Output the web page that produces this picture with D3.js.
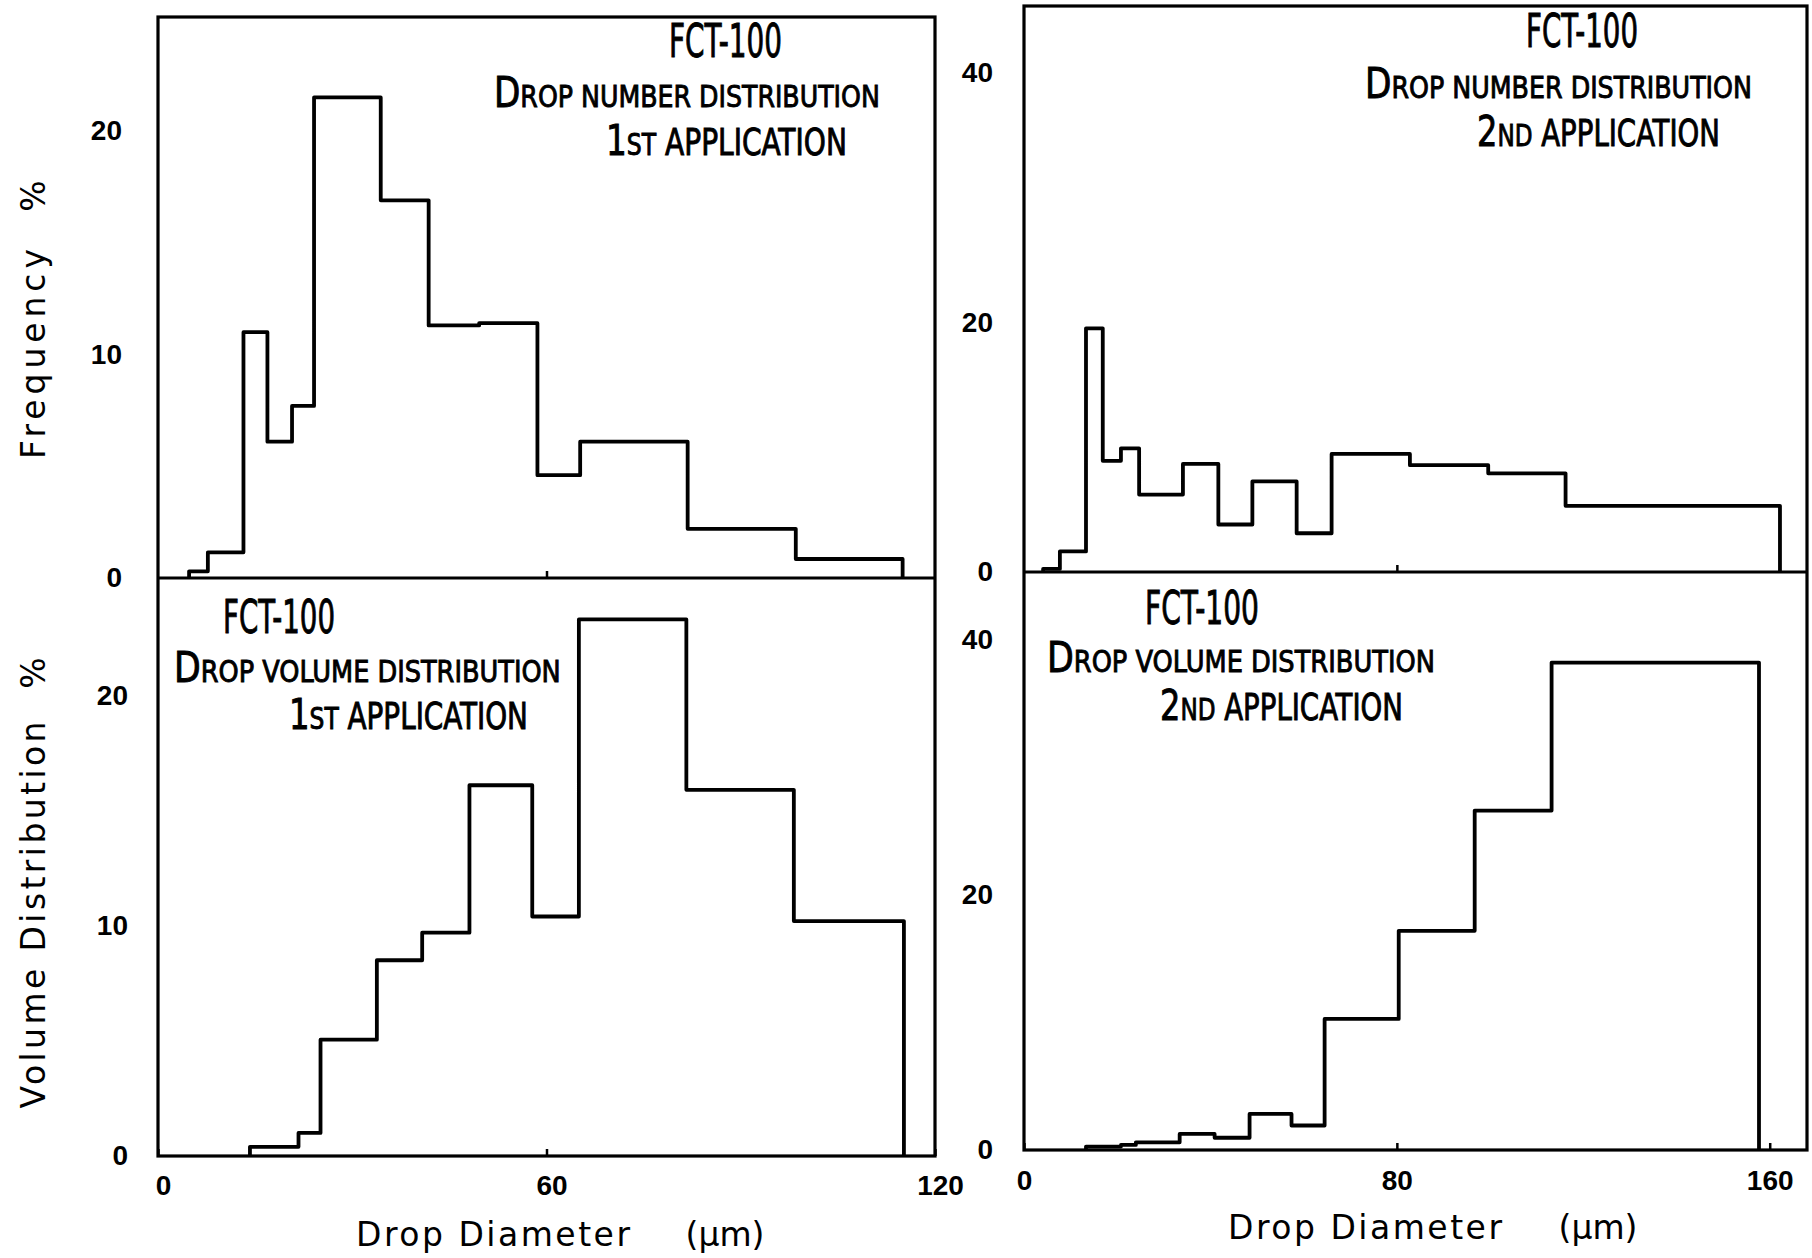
<!DOCTYPE html>
<html>
<head>
<meta charset="utf-8">
<script src="https://cdn.jsdelivr.net/npm/d3@7"></script>
<style>
  html, body { margin: 0; padding: 0; background: #fff; }
  svg { display: block; }
</style>
</head>
<body>
<svg id="chart" width="1812" height="1258"></svg>
<script>
// ---- Data: bin edges (µm) and percentages per bin ----
// 1st application, drop number distribution
const numberEdges1 = [4.8, 7.7, 13.2, 16.9, 20.7, 24.1, 34.4, 41.8, 49.6, 58.6, 65.2, 81.8, 98.5, 115.0];
const numberFreq1  = [0.3, 1.15, 11.0, 6.1, 7.7, 21.5, 16.9, 11.3, 11.4, 4.6, 6.1, 2.2, 0.85];

// 1st application, drop volume distribution
const volumeEdges1 = [14.2, 21.7, 25.1, 33.8, 40.8, 48.1, 57.8, 65.0, 81.6, 98.2, 115.2];
const volumeDist1  = [0.4, 1.0, 5.05, 8.5, 9.7, 16.1, 10.4, 23.3, 15.9, 10.2];

// 2nd application, drop number distribution
const numberEdges2 = [4.1, 7.7, 13.3, 16.9, 20.8, 24.7, 34.1, 41.7, 49.0, 58.5, 66.0, 82.8, 99.6, 116.2, 162.2];
const numberFreq2  = [0.25, 1.65, 19.5, 8.9, 9.9, 6.2, 8.65, 3.8, 7.25, 3.1, 9.45, 8.55, 7.9, 5.3];

// 2nd application, drop volume distribution
const volumeEdges2 = [13.3, 20.8, 24.0, 33.4, 40.9, 48.4, 57.4, 64.5, 80.4, 96.7, 113.2, 157.7];
const volumeDist2  = [0.27, 0.4, 0.6, 1.26, 0.96, 2.83, 1.92, 10.27, 17.18, 26.6, 38.2];

// Tick values
const xTicksLeft  = [0, 60, 120];
const xTicksRight = [0, 80, 160];
const yTicksLeft  = [0, 10, 20];
const yTicksRight = [0, 20, 40];

// ---- Layout ----
const svg = d3.select("#chart");
const ink = "#000";
const letterFont = "'Liberation Sans Narrow', 'DejaVu Sans Condensed', 'Liberation Sans', Arial, sans-serif";
const tickFont = "'Liberation Sans', Arial, sans-serif";
const titleFont = "'DejaVu Sans', 'Liberation Sans', sans-serif";

const leftCol  = { x0: 158,  x1: 935,  top: 17, mid: 578, bottom: 1156 };
const rightCol = { x0: 1024, x1: 1807, top: 6,  mid: 572, bottom: 1150 };

const xLeft  = d3.scaleLinear().domain([0, 120]).range([leftCol.x0, leftCol.x1]);
const xRight = d3.scaleLinear().domain([0, 168]).range([rightCol.x0, rightCol.x1]);
const yLT = d3.scaleLinear().domain([0, 25.1]).range([leftCol.mid, leftCol.top]);
const yLB = d3.scaleLinear().domain([0, 25.1]).range([leftCol.bottom, leftCol.mid]);
const yRT = d3.scaleLinear().domain([0, 45.3]).range([rightCol.mid, rightCol.top]);
const yRB = d3.scaleLinear().domain([0, 45.3]).range([rightCol.bottom, rightCol.mid]);

// ---- Frames (two stacked panels per column) ----
function frame(x, yTop, yBottom) {
  const [x0, x1] = x.range();
  const t = yTop.range()[1], m = yTop.range()[0], b = yBottom.range()[0];
  svg.append("rect")
    .attr("x", x0).attr("y", t).attr("width", x1 - x0).attr("height", b - t)
    .attr("fill", "none").attr("stroke", ink).attr("stroke-width", 3.2);
  svg.append("line")
    .attr("x1", x0).attr("x2", x1).attr("y1", m).attr("y2", m)
    .attr("stroke", ink).attr("stroke-width", 3.2);
}
frame(xLeft, yLT, yLB);
frame(xRight, yRT, yRB);

// ---- Step histograms ----
function stepPoints(edges, vals) {
  const pts = [[edges[0], 0]];
  vals.forEach((v, i) => { pts.push([edges[i], v]); pts.push([edges[i + 1], v]); });
  pts.push([edges[edges.length - 1], 0]);
  return pts;
}
function histogram(x, y, edges, vals) {
  const line = d3.line().x(d => x(d[0])).y(d => y(d[1]));
  svg.append("path")
    .attr("d", line(stepPoints(edges, vals)))
    .attr("fill", "none").attr("stroke", ink)
    .attr("stroke-width", 3.8).attr("stroke-linejoin", "round");
}
histogram(xLeft, yLT, numberEdges1, numberFreq1);
histogram(xLeft, yLB, volumeEdges1, volumeDist1);
histogram(xRight, yRT, numberEdges2, numberFreq2);
histogram(xRight, yRB, volumeEdges2, volumeDist2);

// ---- Axes ----
function yAxis(y, ticks, x0, pad) {
  const g = svg.append("g").attr("transform", `translate(${x0},0)`)
    .call(d3.axisLeft(y).tickValues(ticks).tickSize(0).tickPadding(pad).tickFormat(d3.format("d")));
  g.select(".domain").remove();
  g.selectAll("text")
    .attr("font-family", tickFont).attr("font-weight", "bold")
    .attr("font-size", 28).attr("fill", ink);
}
yAxis(yLT, yTicksLeft, leftCol.x0, 36);
yAxis(yLB, yTicksLeft, leftCol.x0, 30);
yAxis(yRT, yTicksRight, rightCol.x0, 31);
yAxis(yRB, yTicksRight, rightCol.x0, 31);

function xAxis(x, ticks, yBase, labelled, pad, dx) {
  const ax = d3.axisBottom(x).tickValues(ticks).tickSizeInner(-7).tickSizeOuter(0).tickPadding(pad);
  if (!labelled) ax.tickFormat("");
  const g = svg.append("g").attr("transform", `translate(0,${yBase})`).call(ax);
  g.select(".domain").remove();
  g.selectAll("line").attr("stroke", ink).attr("stroke-width", 2.5);
  g.selectAll("text")
    .attr("font-family", tickFont).attr("font-weight", "bold")
    .attr("font-size", 28).attr("fill", ink).attr("dx", dx);
}
// interior ticks on the shared baselines of the upper panels
xAxis(xLeft, [60], leftCol.mid, false, 0, 0);
xAxis(xRight, [80], rightCol.mid, false, 0, 0);
// labelled bottom axes
xAxis(xLeft, xTicksLeft, leftCol.bottom, true, 19, 5);
xAxis(xRight, xTicksRight, rightCol.bottom, true, 20, 0);

// ---- Axis titles ----
function title(str, cx, cy, len, rotate) {
  const t = svg.append("text")
    .attr("transform", `translate(${cx},${cy})` + (rotate ? " rotate(-90)" : ""))
    .attr("text-anchor", "middle")
    .attr("font-family", titleFont).attr("font-size", 33).attr("fill", ink)
    .text(str);
  if (len) t.attr("textLength", len).attr("lengthAdjust", "spacing");
}
title("Frequency", 45, 354, 210, true);
title("%", 45, 196, null, true);
title("Volume Distribution", 45, 915, 387, true);
title("%", 45, 673, null, true);
title("Drop Diameter", 493, 1246, 274, false);
title("(μm)", 725, 1246, null, false);
title("Drop Diameter", 1365, 1239, 274, false);
title("(μm)", 1598, 1239, null, false);

// ---- Lettered captions inside the panels ----
function caption(parts, xa, xb, baseline) {
  const t = svg.append("text").attr("font-family", letterFont).attr("fill", ink)
    .attr("stroke", ink).attr("stroke-width", 0.9);
  parts.forEach(([s, size]) => t.append("tspan").attr("font-size", size).text(s));
  const w = t.node().getBBox().width;
  t.attr("transform", `translate(${xa},${baseline}) scale(${(xb - xa) / w},1)`);
}
// upper left
caption([["FCT-100", 46]], 669, 782, 57);
caption([["D", 42], ["ROP NUMBER DISTRIBUTION", 31]], 494, 880, 107);
caption([["1", 43], ["ST", 31], [" APPLICATION", 37]], 606, 847, 155);
// upper right
caption([["FCT-100", 46]], 1526, 1638, 47);
caption([["D", 42], ["ROP NUMBER DISTRIBUTION", 31]], 1365, 1752, 98);
caption([["2", 43], ["ND", 31], [" APPLICATION", 37]], 1477, 1720, 146);
// lower left
caption([["FCT-100", 46]], 223, 335, 633);
caption([["D", 42], ["ROP VOLUME DISTRIBUTION", 31]], 174, 561, 682);
caption([["1", 43], ["ST", 31], [" APPLICATION", 37]], 289, 528, 729);
// lower right
caption([["FCT-100", 46]], 1145, 1259, 624);
caption([["D", 42], ["ROP VOLUME DISTRIBUTION", 31]], 1047, 1435, 672);
caption([["2", 43], ["ND", 31], [" APPLICATION", 37]], 1160, 1403, 720);
</script>
</body>
</html>
